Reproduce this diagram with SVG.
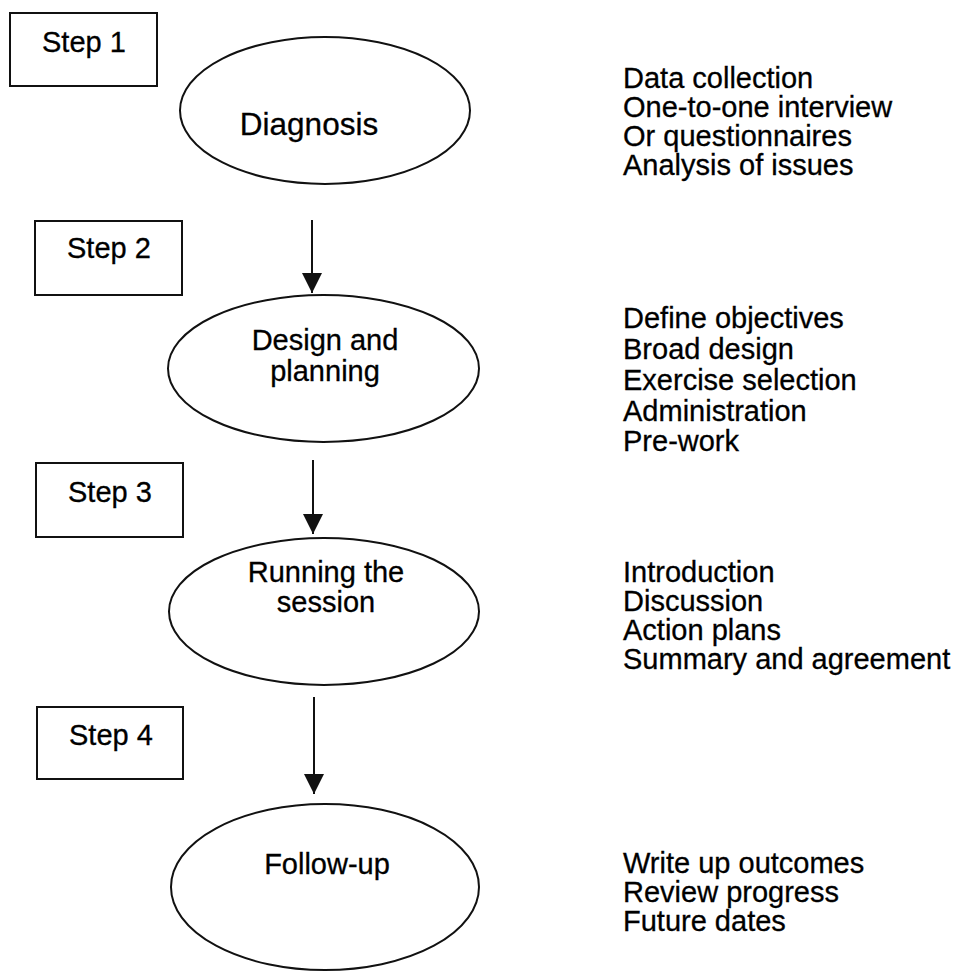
<svg xmlns="http://www.w3.org/2000/svg" width="966" height="971" viewBox="0 0 966 971">
  <style>
    .step { fill: #fff; stroke: #111; stroke-width: 2; }
    .stage { fill: #fff; stroke: #111; stroke-width: 2; }
    .lbl { font-family: "Liberation Sans", Arial, sans-serif; font-size: 29px; fill: #000; stroke: #000; stroke-width: 0.3; }
    .big { font-size: 31.5px; }
    .mid { text-anchor: middle; }
    .flow { stroke: #111; stroke-width: 2; fill: none; marker-end: url(#head); }
  </style>
  <defs>
    <marker id="head" viewBox="0 0 20 20" refX="20" refY="10" markerWidth="20" markerHeight="20" markerUnits="userSpaceOnUse" orient="auto">
      <path d="M0,0 L20,10 L0,20 Z" fill="#111"/>
    </marker>
  </defs>

  <rect width="966" height="971" fill="#fff"/>

  <!-- step labels -->
  <g id="step1"><rect class="step" x="10" y="13" width="147" height="73"/><text class="lbl" x="42" y="52">Step 1</text></g>
  <g id="step2"><rect class="step" x="35" y="221" width="147" height="74"/><text class="lbl" x="67" y="258">Step 2</text></g>
  <g id="step3"><rect class="step" x="36" y="463" width="147" height="74"/><text class="lbl" x="68" y="502">Step 3</text></g>
  <g id="step4"><rect class="step" x="37" y="707" width="146" height="72"/><text class="lbl" x="69" y="745">Step 4</text></g>

  <!-- process stages -->
  <g id="diagnosis"><ellipse class="stage" cx="325" cy="110.5" rx="145" ry="73.5"/><text class="lbl big mid" x="309" y="135">Diagnosis</text></g>
  <g id="design"><ellipse class="stage" cx="323.5" cy="368.5" rx="155.5" ry="73.5"/>
    <text class="lbl mid" x="325" y="350">Design and</text><text class="lbl mid" x="325" y="381">planning</text></g>
  <g id="running"><ellipse class="stage" cx="324" cy="611.5" rx="155" ry="73.5"/>
    <text class="lbl mid" x="326" y="582">Running the</text><text class="lbl mid" x="326" y="612">session</text></g>
  <g id="followup"><ellipse class="stage" cx="325" cy="887" rx="154" ry="83"/><text class="lbl mid" x="327" y="874">Follow-up</text></g>

  <!-- connectors -->
  <g id="connectors">
    <line class="flow" x1="312" y1="220" x2="312" y2="293"/>
    <line class="flow" x1="313" y1="460" x2="313" y2="534"/>
    <line class="flow" x1="314" y1="697" x2="314" y2="794"/>
  </g>

  <!-- activity lists -->
  <g id="notes-diagnosis">
    <text class="lbl" x="623" y="88">Data collection</text>
    <text class="lbl" x="623" y="117">One-to-one interview</text>
    <text class="lbl" x="623" y="146">Or questionnaires</text>
    <text class="lbl" x="623" y="175">Analysis of issues</text>
  </g>
  <g id="notes-design">
    <text class="lbl" x="623" y="328">Define objectives</text>
    <text class="lbl" x="623" y="359">Broad design</text>
    <text class="lbl" x="623" y="390">Exercise selection</text>
    <text class="lbl" x="623" y="421">Administration</text>
    <text class="lbl" x="623" y="451">Pre-work</text>
  </g>
  <g id="notes-running">
    <text class="lbl" x="623" y="582">Introduction</text>
    <text class="lbl" x="623" y="611">Discussion</text>
    <text class="lbl" x="623" y="640">Action plans</text>
    <text class="lbl" x="623" y="669">Summary and agreement</text>
  </g>
  <g id="notes-followup">
    <text class="lbl" x="623" y="873">Write up outcomes</text>
    <text class="lbl" x="623" y="902">Review progress</text>
    <text class="lbl" x="623" y="931">Future dates</text>
  </g>
</svg>
